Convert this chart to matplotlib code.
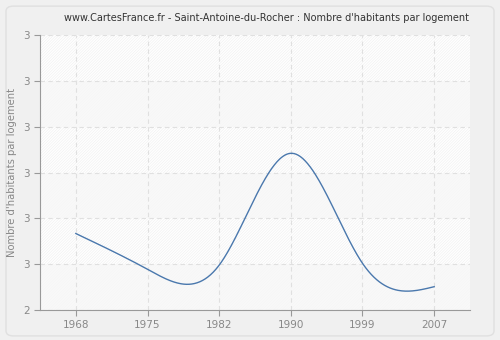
import matplotlib
matplotlib.use("Agg")
import matplotlib.pyplot as plt
import numpy as np
from matplotlib.patches import FancyBboxPatch
from matplotlib.ticker import FuncFormatter

years = ["1968", "1975", "1982", "1990", "1999", "2007"]
values = [2.667, 2.589, 2.598, 2.842, 2.602, 2.551]
y_ticks = [2.5, 2.6, 2.7, 2.8, 2.9, 3.0, 3.1]


def natural_spline(x, y, n=400):
    # natural cubic spline, only used to draw a smooth line through the points
    x = np.asarray(x, float)
    y = np.asarray(y, float)
    k = len(x)
    h = np.diff(x)
    A = np.zeros((k, k))
    b = np.zeros(k)
    A[0, 0] = A[-1, -1] = 1
    for i in range(1, k - 1):
        A[i, i - 1] = h[i - 1]
        A[i, i] = 2 * (h[i - 1] + h[i])
        A[i, i + 1] = h[i]
        b[i] = 6 * ((y[i + 1] - y[i]) / h[i] - (y[i] - y[i - 1]) / h[i - 1])
    m = np.linalg.solve(A, b)
    xs = np.linspace(x[0], x[-1], n)
    idx = np.clip(np.searchsorted(x, xs) - 1, 0, k - 2)
    x0, x1 = x[idx], x[idx + 1]
    hh = x1 - x0
    t0, t1 = x1 - xs, xs - x0
    ys = (m[idx] * t0**3 + m[idx + 1] * t1**3) / (6 * hh) \
        + (y[idx] / hh - m[idx] * hh / 6) * t0 \
        + (y[idx + 1] / hh - m[idx + 1] * hh / 6) * t1
    return xs, ys


plt.rcParams["hatch.linewidth"] = 0.35

fig = plt.figure(figsize=(5, 3.4), dpi=100, facecolor="#f0f0f0")
fig.patches.append(FancyBboxPatch((0.012, 0.012), 0.976, 0.97, boxstyle="round,pad=0,rounding_size=0.015",
                                  transform=fig.transFigure, facecolor="#f0f0f0",
                                  edgecolor="#e0e0e0", linewidth=1, zorder=-1))

ax = fig.add_axes([0.08, 0.088, 0.86, 0.809])
ax.set_facecolor("white")

pos = np.arange(len(years))
ax.set_xlim(-0.5, len(years) - 0.5)
ax.set_ylim(y_ticks[0], y_ticks[-1])

for i in range(len(y_ticks) - 1):
    if i % 2 == 0:
        ax.axhspan(y_ticks[i], y_ticks[i + 1], facecolor="#f9f9f9", hatch="/" * 12,
                   edgecolor="#f4f4f4", linewidth=0, zorder=0)
    else:
        ax.axhspan(y_ticks[i], y_ticks[i + 1], facecolor="white", hatch="/" * 12,
                   edgecolor="#ececec", linewidth=0, zorder=0)

ax.grid(True, color="#e0e0e0", linestyle=(0, (4, 3)), linewidth=0.8, zorder=1)

xs, ys = natural_spline(pos, values)
ax.plot(xs, ys, color="#4a78ad", linewidth=1, zorder=3)

ax.set_xticks(pos)
ax.set_xticklabels(years)
ax.set_yticks(y_ticks)
ax.yaxis.set_major_formatter(FuncFormatter(lambda v, p: format(round(v, 1), ".0f")))
ax.tick_params(colors="#999999", labelcolor="#888888", labelsize=7.5, length=4, width=0.8)
for s in ["top", "right"]:
    ax.spines[s].set_visible(False)
for s in ["left", "bottom"]:
    ax.spines[s].set_color("#999999")
    ax.spines[s].set_linewidth(0.8)

ax.set_ylabel("Nombre d'habitants par logement", color="#888888", fontsize=7.2)
ax.set_title("www.CartesFrance.fr - Saint-Antoine-du-Rocher : Nombre d'habitants par logement",
             color="#333333", fontsize=7, x=0.527, pad=10)

fig.savefig("out.png", dpi=100, facecolor=fig.get_facecolor())
